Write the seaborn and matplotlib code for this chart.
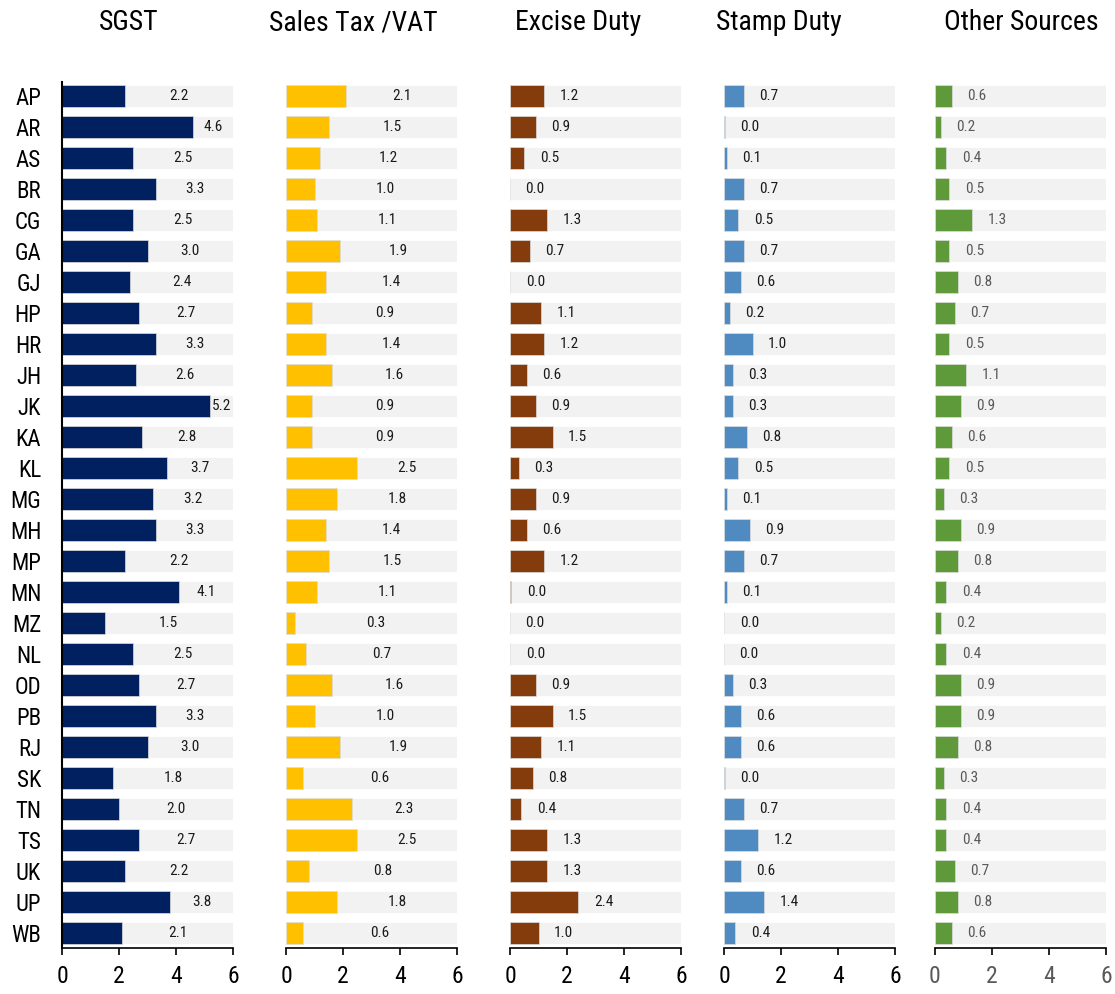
import matplotlib
matplotlib.use("Agg")
import matplotlib.pyplot as plt
from matplotlib import font_manager
from matplotlib.font_manager import FontProperties
import seaborn as sns
import pandas as pd

states = ["AP", "AR", "AS", "BR", "CG", "GA", "GJ", "HP", "HR", "JH", "JK", "KA", "KL", "MG",
          "MH", "MP", "MN", "MZ", "NL", "OD", "PB", "RJ", "SK", "TN", "TS", "UK", "UP", "WB"]

sgst = [2.2, 4.6, 2.5, 3.3, 2.5, 3.0, 2.4, 2.7, 3.3, 2.6, 5.2, 2.8, 3.7, 3.2,
        3.3, 2.2, 4.1, 1.5, 2.5, 2.7, 3.3, 3.0, 1.8, 2.0, 2.7, 2.2, 3.8, 2.1]
sales_tax = [2.1, 1.5, 1.2, 1.0, 1.1, 1.9, 1.4, 0.9, 1.4, 1.6, 0.9, 0.9, 2.5, 1.8,
             1.4, 1.5, 1.1, 0.3, 0.7, 1.6, 1.0, 1.9, 0.6, 2.3, 2.5, 0.8, 1.8, 0.6]
excise = [1.2, 0.9, 0.5, 0.0, 1.3, 0.7, 0.01, 1.1, 1.2, 0.6, 0.9, 1.5, 0.3, 0.9,
          0.6, 1.2, 0.04, 0.0, 0.01, 0.9, 1.5, 1.1, 0.8, 0.4, 1.3, 1.3, 2.4, 1.0]
stamp = [0.7, 0.03, 0.1, 0.7, 0.5, 0.7, 0.6, 0.2, 1.0, 0.3, 0.3, 0.8, 0.5, 0.1,
         0.9, 0.7, 0.1, 0.01, 0.0, 0.3, 0.6, 0.6, 0.02, 0.7, 1.2, 0.6, 1.4, 0.4]
other = [0.6, 0.2, 0.4, 0.5, 1.3, 0.5, 0.8, 0.7, 0.5, 1.1, 0.9, 0.6, 0.5, 0.3,
         0.9, 0.8, 0.4, 0.2, 0.4, 0.9, 0.9, 0.8, 0.3, 0.4, 0.4, 0.7, 0.8, 0.6]

titles = ["SGST", "Sales Tax /VAT", "Excise Duty", "Stamp Duty", "Other Sources"]
series = [sgst, sales_tax, excise, stamp, other]
colors = ["#002060", "#FFC000", "#843C0C", "#4F8BC0", "#5E9A3A"]
xticks = [0, 2, 4, 6]
xmax = 6

sns.set_theme(style="white")

# ---- font choice: prefer a narrow sans (Arial Narrow look-alike) ----
entries = font_manager.fontManager.ttflist
prefs = ["Liberation Sans Narrow", "Arial Narrow", "Roboto Condensed",
         "Open Sans Condensed", "DejaVu Sans Condensed"]
chosen = None
for p in prefs:
    for f in entries:
        if f.name == p and f.style == "normal" and f.weight in (400, "normal", "regular"):
            chosen = (p, f.fname)
            break
    if chosen:
        break
if chosen is None:
    for f in entries:
        if ("condensed" in str(f.stretch).lower() and f.style == "normal"
                and f.weight in (400, "normal", "regular")
                and ("DejaVu Sans" in f.name or "Noto Sans" == f.name or "Roboto" in f.name)):
            chosen = (f.name, f.fname)
            break
narrow = chosen is not None and ("Narrow" in chosen[0] or "Roboto" in chosen[0]
                                 or "Open Sans" in chosen[0])
if chosen is None:
    fp_base = FontProperties(family=["Liberation Sans", "DejaVu Sans"])
else:
    fp_base = FontProperties(fname=chosen[1])
scale = 1.0 if narrow else 0.88
plt.rcParams["font.family"] = ["Liberation Sans", "DejaVu Sans"]


def fp(size):
    p = fp_base.copy()
    p.set_size(size)
    return p


W, H = 1115, 994
fig = plt.figure(figsize=(W / 100, H / 100), dpi=100)

left_px = [62, 286, 510, 724, 935]
width_px = 171
top_px, bot_px = 82, 948
title_x_px = [129, 353, 578, 779, 1021]
mid_label = [True, True, False, False, False]
txt_colors = ["#1a1a1a", "#1a1a1a", "#1a1a1a", "#1a1a1a", "#595959"]

for i in range(5):
    ax = fig.add_axes([left_px[i] / W, (H - bot_px) / H, width_px / W, (bot_px - top_px) / H])
    df = pd.DataFrame({"state": states, "value": series[i], "full": [xmax] * len(states)})
    sns.barplot(data=df, x="full", y="state", orient="h", color="#F2F2F2",
                width=0.68, ax=ax, saturation=1, edgecolor="white", linewidth=0.6)
    sns.barplot(data=df, x="value", y="state", orient="h", color=colors[i],
                width=0.68, ax=ax, saturation=1, edgecolor="#dddddd", linewidth=0.5)
    for j, v in enumerate(series[i]):
        xpos = (v + xmax) / 2 if mid_label[i] else v + 0.88
        ax.text(xpos, j, f"{v:.1f}", ha="center", va="center",
                fontproperties=fp(11 * (1.0 if narrow else 0.92)), color=txt_colors[i])
    ax.set_xlim(0, xmax)
    ax.set_ylim(27 + 15 / 31, -14 / 31)
    ax.set_xlabel("")
    ax.set_ylabel("")
    ax.set_xticks(xticks)
    ax.set_xticklabels([str(t) for t in xticks], fontproperties=fp(17 * scale),
                       color=("#595959" if i == 4 else "black"))
    ax.tick_params(axis="x", bottom=True, length=5, width=1.2, color="black", pad=7)
    for s in ["top", "right"]:
        ax.spines[s].set_visible(False)
    ax.spines["bottom"].set_color("black")
    ax.spines["bottom"].set_linewidth(1.2)
    if i == 0:
        ax.spines["left"].set_color("black")
        ax.spines["left"].set_linewidth(1.5)
        ax.set_yticks(range(len(states)))
        ax.set_yticklabels(states, fontproperties=fp(16.5 * scale), color="black")
        ax.tick_params(axis="y", left=False, length=0, pad=15)
    else:
        ax.spines["left"].set_visible(False)
        ax.set_yticks([])
    fig.text(title_x_px[i] / W, 1 - 23 / H, titles[i], ha="center", va="center",
             fontproperties=fp(20 * scale), color="black")

fig.savefig("out.png", dpi=100)
